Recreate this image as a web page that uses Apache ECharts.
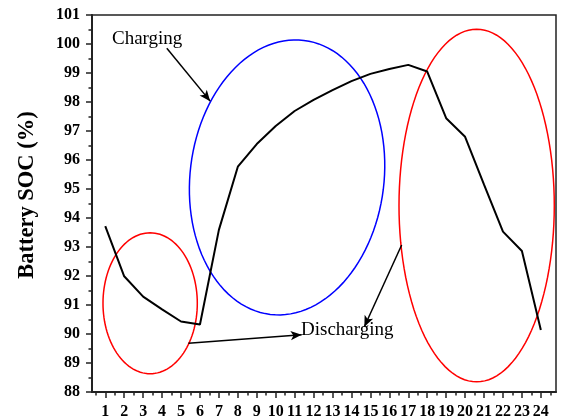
<!DOCTYPE html>
<html><head><meta charset="utf-8">
<script src="https://cdn.jsdelivr.net/npm/echarts@6/dist/echarts.min.js"></script>
<style>html,body{margin:0;padding:0;background:#fff}#c{width:561px;height:420px}</style>
</head><body><div id="c"></div>
<script>
const hours = [1,2,3,4,5,6,7,8,9,10,11,12,13,14,15,16,17,18,19,20,21,22,23,24];
const soc = [93.72,91.99,91.29,90.85,90.43,90.33,93.59,95.77,96.55,97.17,97.69,98.07,98.41,98.72,98.97,99.14,99.28,99.05,97.44,96.8,95.15,93.53,92.86,90.14];
const minorTicks = [0.5,1.5,2.5,3.5,4.5,5.5,6.5,7.5,8.5,9.5,10.5,11.5,12.5,13.5,14.5,15.5,16.5,17.5,18.5,19.5,20.5,21.5,22.5,23.5,24.5];
// ellipse annotations: [centerX, centerY, radiusX, radiusY, rotationDeg]
const ellipseSmall = [3.37, 91.06, 2.49, 2.43, 0];
const ellipseBlue = [10.6, 95.4, 5.12, 4.76, 7];
const ellipseBig = [20.61, 94.43, 4.10, 6.08, 0];
const ellipseColors = ['#ff0000', '#0000ff', '#ff0000'];
// arrows: [fromX, fromY, toX, toY]
const arrowCharging = [4.25, 99.85, 6.54, 98.03];
const arrowDis1 = [5.39, 89.68, 11.37, 89.97];
const arrowDis2 = [16.65, 93.07, 14.68, 90.25];

const serif = '"Liberation Serif","Times New Roman",serif';
const chart = echarts.init(document.getElementById('c'));
const axisColor = '#222';
function arrow(a){ return [{coord:[a[0],a[1]]},{coord:[a[2],a[3]]}]; }
chart.setOption({
  animation:false,
  grid:{left:92, top:15, right:5, bottom:28, show:true, borderColor:axisColor, borderWidth:1.5},
  xAxis:[{
    type:'value', min:0.3, max:24.8,
    axisLine:{show:true, lineStyle:{color:axisColor, width:2}},
    axisTick:{show:true, length:6, customValues:hours, lineStyle:{color:axisColor, width:1.5}},
    axisLabel:{customValues:hours, margin:12, color:'#000', fontFamily:serif, fontWeight:'bold', fontSize:16},
    splitLine:{show:false}
  },{
    type:'value', min:0.3, max:24.8, position:'bottom',
    axisLine:{show:false},
    axisTick:{show:true, length:3.5, customValues:minorTicks, lineStyle:{color:axisColor, width:1.5}},
    axisLabel:{show:false},
    splitLine:{show:false}
  }],
  yAxis:{
    type:'value', min:88, max:101, interval:1,
    axisLine:{show:true, lineStyle:{color:axisColor, width:2}},
    axisTick:{show:true, length:6, lineStyle:{color:axisColor, width:1.5}},
    minorTick:{show:true, splitNumber:2, length:3.5, lineStyle:{color:axisColor, width:1.5}},
    axisLabel:{margin:12, color:'#000', fontFamily:serif, fontWeight:'bold', fontSize:16},
    splitLine:{show:false}
  },
  series:[{
    type:'line', data:hours.map((h,i)=>[h,soc[i]]), symbol:'none',
    lineStyle:{color:'#000', width:2}, z:3,
    markLine:{
      silent:true, symbol:['none','arrow'], symbolSize:[7,11],
      label:{show:false},
      lineStyle:{color:'#000', width:1.5, type:'solid'},
      data:[arrow(arrowCharging), arrow(arrowDis1), arrow(arrowDis2)]
    }
  },{
    type:'custom', z:2,
    data:[ellipseSmall, ellipseBlue, ellipseBig],
    encode:{x:0, y:1},
    clip:false,
    renderItem:function(params, api){
      const c = api.coord([api.value(0), api.value(1)]);
      const s = api.size([api.value(2), api.value(3)]);
      const rot = api.value(4) * Math.PI / 180;
      const pts = [];
      for (let k = 0; k < 120; k++) {
        const t = k / 120 * Math.PI * 2;
        const ex = s[0] * Math.cos(t), ey = s[1] * Math.sin(t);
        pts.push([c[0] + ex*Math.cos(rot) - ey*Math.sin(rot), c[1] + ex*Math.sin(rot) + ey*Math.cos(rot)]);
      }
      return {type:'polygon', shape:{points:pts},
        style:{fill:'none', stroke:ellipseColors[params.dataIndex], lineWidth:1.5}};
    }
  }],
  graphic:[
    {type:'text', x:27, y:195, rotation:Math.PI/2,
      style:{text:'Battery SOC (%)', font:'bold 22.5px '+serif, fill:'#000', align:'center', verticalAlign:'middle'}},
    {type:'text', left:112, top:30, style:{text:'Charging', font:'19px '+serif, fill:'#000'}},
    {type:'text', left:301, top:321, style:{text:'Discharging', font:'19px '+serif, fill:'#000'}}
  ]
});
</script></body></html>
